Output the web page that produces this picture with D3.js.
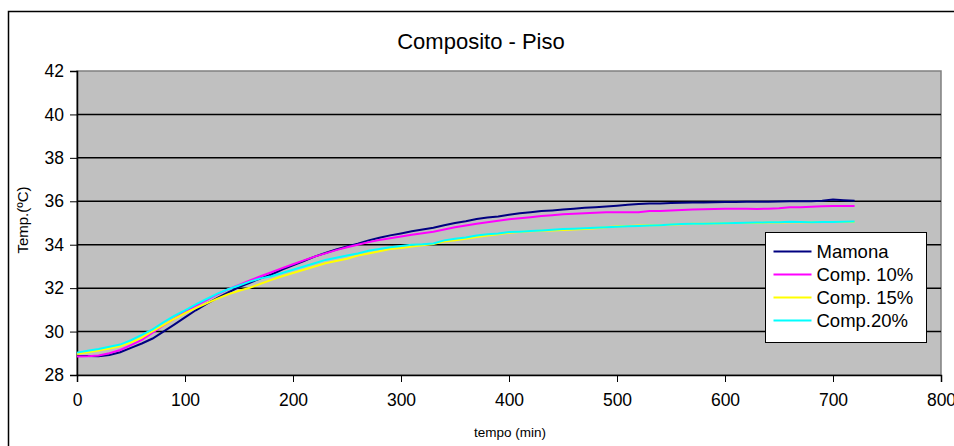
<!DOCTYPE html>
<html>
<head>
<meta charset="utf-8">
<script src="https://cdn.jsdelivr.net/npm/d3@7"></script>
<style>
  body { margin: 0; background: #fff; }
  svg { display: block; font-family: "Liberation Sans", Arial, sans-serif; }
</style>
</head>
<body>
<div id="container"></div>
<script>
// minutes, sampled every 10 min
const tempo = d3.range(0, 721, 10);

const mamona = [
  28.88, 28.87, 28.86, 28.92, 29.05, 29.25, 29.45, 29.68, 30.0, 30.32,
  30.65, 30.98, 31.28, 31.55, 31.8, 32.05, 32.25, 32.45, 32.63, 32.85,
  33.05, 33.25, 33.45, 33.62, 33.78, 33.92, 34.05, 34.2, 34.32, 34.43,
  34.52, 34.62, 34.7, 34.78, 34.9, 35.0, 35.08, 35.18, 35.25, 35.3,
  35.38, 35.45, 35.5, 35.55, 35.58, 35.62, 35.66, 35.7, 35.73, 35.76,
  35.8, 35.84, 35.88, 35.9, 35.9, 35.92, 35.93, 35.94, 35.94, 35.95,
  35.97, 35.97, 35.98, 35.98, 35.98, 35.99, 36.0, 36.0, 36.0, 36.02,
  36.08, 36.05, 36.03
];
const comp10 = [
  28.85, 28.86, 28.9, 29.0, 29.15, 29.38, 29.62, 29.95, 30.28, 30.6,
  30.92, 31.2, 31.45, 31.72, 31.95, 32.15, 32.35, 32.55, 32.73, 32.92,
  33.1, 33.28, 33.45, 33.6, 33.75, 33.88, 34.0, 34.12, 34.22, 34.3,
  34.38, 34.46, 34.53, 34.6, 34.7, 34.8, 34.88, 34.97, 35.03, 35.1,
  35.17, 35.22, 35.27, 35.32, 35.36, 35.4, 35.43, 35.45, 35.47, 35.5,
  35.5, 35.5, 35.5, 35.55, 35.55, 35.57, 35.6, 35.62, 35.63, 35.65,
  35.66, 35.66, 35.66, 35.65, 35.66, 35.68, 35.72, 35.73, 35.75, 35.77,
  35.78, 35.78, 35.78
];
const comp15 = [
  28.97, 29.05, 29.13, 29.22, 29.33, 29.5, 29.72, 30.02, 30.3, 30.58,
  30.85, 31.08, 31.3, 31.52, 31.72, 31.88, 32.02, 32.2, 32.38, 32.55,
  32.7, 32.85, 33.0, 33.15, 33.25, 33.35, 33.5, 33.6, 33.7, 33.8,
  33.85, 33.92, 33.98, 34.03, 34.15, 34.2, 34.27, 34.35, 34.42, 34.48,
  34.55, 34.58, 34.62, 34.64, 34.66, 34.68, 34.7, 34.72, 34.76, 34.8,
  34.85, 34.86, 34.88, 34.9, 34.9, 34.92, 34.94, 34.96, 34.97, 34.98,
  34.99, 35.0, 35.0, 35.0, 35.02, 35.02, 35.03, 35.03, 35.04, 35.05,
  35.05, 35.05, 35.05
];
const comp20 = [
  29.03, 29.12, 29.2, 29.3, 29.4, 29.6, 29.85, 30.1, 30.42, 30.72,
  30.98, 31.25, 31.5, 31.75, 31.95, 32.12, 32.3, 32.45, 32.55, 32.7,
  32.85, 33.0, 33.15, 33.3, 33.4, 33.5, 33.6, 33.72, 33.8, 33.88,
  33.94, 34.0, 34.02, 34.06, 34.2, 34.27, 34.33, 34.42, 34.48, 34.52,
  34.58, 34.6, 34.63, 34.66, 34.69, 34.72, 34.74, 34.76, 34.78, 34.8,
  34.83, 34.85, 34.86, 34.88, 34.9, 34.93, 34.95, 34.96, 34.97, 34.98,
  34.99, 35.0, 35.01, 35.02, 35.03, 35.04, 35.06, 35.05, 35.04, 35.05,
  35.05, 35.06, 35.07
];

const seriesNames = ["Mamona", "Comp. 10%", "Comp. 15%", "Comp.20%"];
const seriesColors = ["#000080", "#ff00ff", "#ffff00", "#00ffff"];
const seriesValues = [mamona, comp10, comp15, comp20];

const xTicks = [0, 100, 200, 300, 400, 500, 600, 700, 800];
const yTicks = [28, 30, 32, 34, 36, 38, 40, 42];

const W = 954;
const H = 446;
const plot = { left: 77, right: 941, top: 71, bottom: 375 };

const x = d3.scaleLinear().domain([0, 800]).range([plot.left, plot.right]);
const y = d3.scaleLinear().domain([28, 42]).range([plot.bottom, plot.top]);

const svg = d3
  .select("#container")
  .append("svg")
  .attr("width", W)
  .attr("height", H);

svg.append("rect").attr("width", W).attr("height", H).attr("fill", "#fff");

// outer chart border (runs off the right and bottom edges)
svg
  .append("rect")
  .attr("x", 8.5)
  .attr("y", 11.5)
  .attr("width", 1000)
  .attr("height", 500)
  .attr("fill", "none")
  .attr("stroke", "#000")
  .attr("stroke-width", 1.5);

// plot area
svg
  .append("rect")
  .attr("x", plot.left)
  .attr("y", plot.top)
  .attr("width", plot.right - plot.left)
  .attr("height", plot.bottom - plot.top)
  .attr("fill", "#c0c0c0")
  .attr("stroke", "#808080")
  .attr("stroke-width", 1.5);

svg
  .append("g")
  .selectAll("line")
  .data(yTicks.filter((t) => t > 28 && t < 42))
  .join("line")
  .attr("x1", plot.left)
  .attr("x2", plot.right)
  .attr("y1", (d) => y(d))
  .attr("y2", (d) => y(d))
  .attr("stroke", "#000")
  .attr("stroke-width", 1.5);

// axes
const yAxis = svg
  .append("g")
  .attr("transform", `translate(${plot.left},0)`)
  .call(d3.axisLeft(y).tickValues(yTicks).tickSize(7).tickPadding(6));
const xAxis = svg
  .append("g")
  .attr("transform", `translate(0,${plot.bottom})`)
  .call(d3.axisBottom(x).tickValues(xTicks).tickSize(7).tickPadding(12));

[yAxis, xAxis].forEach((g) => {
  g.select(".domain").attr("stroke", "#000").attr("stroke-width", 1.5);
  g.selectAll(".tick line").attr("stroke", "#000").attr("stroke-width", 1);
  g.selectAll(".tick text")
    .attr("fill", "#000")
    .style("font-family", '"Liberation Sans", Arial, sans-serif')
    .style("font-size", "17.5px");
});

// series
const line = d3
  .line()
  .x((d, i) => x(tempo[i]))
  .y((d) => y(d));

svg
  .append("g")
  .selectAll("path")
  .data(seriesValues)
  .join("path")
  .attr("d", line)
  .attr("fill", "none")
  .attr("stroke", (d, i) => seriesColors[i])
  .attr("stroke-width", 2);

// titles
svg
  .append("text")
  .attr("x", 481)
  .attr("y", 49)
  .attr("text-anchor", "middle")
  .style("font-size", "22px")
  .text("Composito - Piso");

svg
  .append("text")
  .attr("transform", "translate(28,220) rotate(-90)")
  .attr("text-anchor", "middle")
  .style("font-size", "15px")
  .text("Temp.(ºC)");

svg
  .append("text")
  .attr("x", 510)
  .attr("y", 437)
  .attr("text-anchor", "middle")
  .style("font-size", "13.5px")
  .text("tempo (min)");

// legend
const legend = svg.append("g").attr("transform", "translate(765.5,232.5)");
legend
  .append("rect")
  .attr("width", 161)
  .attr("height", 110)
  .attr("fill", "#fff")
  .attr("stroke", "#000")
  .attr("stroke-width", 1);

const item = legend
  .selectAll("g")
  .data(seriesNames)
  .join("g")
  .attr("transform", (d, i) => `translate(0,${19 + i * 23})`);
item
  .append("line")
  .attr("x1", 8)
  .attr("x2", 46)
  .attr("stroke", (d, i) => seriesColors[i])
  .attr("stroke-width", 2);
item
  .append("text")
  .attr("x", 51)
  .attr("dy", "0.35em")
  .style("font-size", "18.5px")
  .text((d) => d);
</script>
</body>
</html>
